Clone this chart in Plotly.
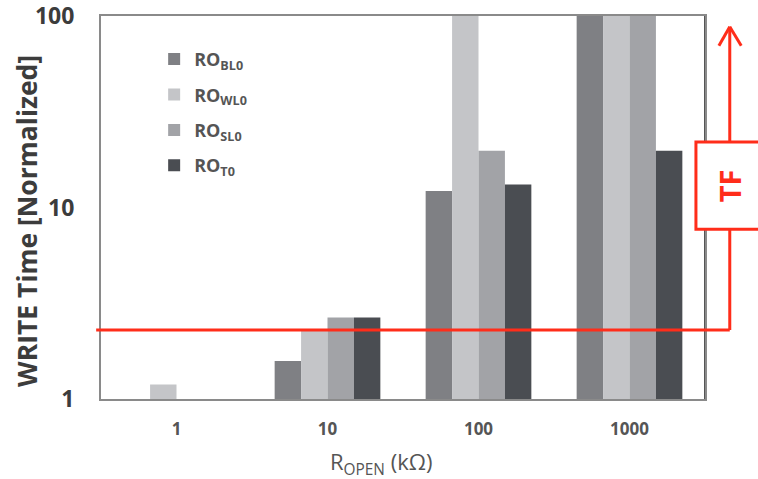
import plotly.graph_objects as go
import math

categories = ["1", "10", "100", "1000"]
series_names = ["RO<sub>BL0</sub>", "RO<sub>WL0</sub>", "RO<sub>SL0</sub>", "RO<sub>T0</sub>"]
ro_bl0 = [None, 1.58, 12.2, 100]
ro_wl0 = [1.19, 2.29, 100, 100]
ro_sl0 = [None, 2.66, 19.8, 100]
ro_t0 = [None, 2.66, 13.2, 19.8]
colors = ["#7f8084", "#c4c5c8", "#a2a3a7", "#4a4d52"]
threshold = 2.29
tf_arrow_top = 88
tf_arrow_base = 70
tf_box = [7.7, 22.0]
y_ticks = [1, 10, 100]

RED = "#ff2d1a"
FONT = "Open Sans"

fig = go.Figure()
for i, (name, vals) in enumerate(zip(series_names, [ro_bl0, ro_wl0, ro_sl0, ro_t0])):
    fig.add_trace(go.Bar(
        x=categories, y=vals, name=name, marker_color=colors[i],
        marker_line_width=0, legendgroup=str(i)))

shapes = [
    dict(type="line", xref="paper", yref="y", x0=-0.008, x1=1.041,
         y0=threshold, y1=threshold, line=dict(color=RED, width=3)),
    dict(type="line", xref="paper", yref="y", x0=1.041, x1=1.041,
         y0=threshold, y1=tf_arrow_top, line=dict(color=RED, width=3)),
    dict(type="line", xref="paper", yref="y", x0=1.023, x1=1.041,
         y0=tf_arrow_base, y1=tf_arrow_top, line=dict(color=RED, width=3)),
    dict(type="line", xref="paper", yref="y", x0=1.041, x1=1.060,
         y0=tf_arrow_top, y1=tf_arrow_base, line=dict(color=RED, width=3)),
    dict(type="rect", xref="paper", yref="y", x0=0.985, x1=1.2,
         y0=tf_box[0], y1=tf_box[1], fillcolor="white",
         line=dict(color=RED, width=3), layer="above"),
    dict(type="line", xref="paper", yref="paper", x0=1, x1=1, y0=0, y1=1,
         line=dict(color="#555", width=2), layer="below"),
]

annotations = [
    dict(text="<b>TF</b>", xref="paper", yref="y", x=1.041,
         y=(math.log10(tf_box[0]) + math.log10(tf_box[1])) / 2, showarrow=False,
         xanchor="center", yanchor="middle",
         textangle=-90, font=dict(size=29, color=RED, family=FONT)),
    dict(text="<b>WRITE Time [Normalized]</b>", xref="paper", yref="paper",
         x=-0.1225, y=0.465, showarrow=False, textangle=-90,
         xanchor="center", yanchor="middle",
         font=dict(size=26.5, color="#3c3c3c", family=FONT)),
    dict(text="R<sub>OPEN</sub> (kΩ)", xref="paper", yref="paper",
         x=0.4636, y=-0.167, showarrow=False,
         xanchor="center", yanchor="middle",
         font=dict(size=22, color="#555", family=FONT)),
]

fig.update_layout(
    width=758, height=479,
    margin=dict(l=101, r=53, t=16, b=80, autoexpand=False),
    plot_bgcolor="white", paper_bgcolor="white",
    barmode="group", bargap=0.3, bargroupgap=0,
    font=dict(family=FONT, color="#444"),
    shapes=shapes,
    annotations=annotations,
    showlegend=True,
    legend=dict(x=0.088, y=0.935, xanchor="left", yanchor="top",
                bgcolor="rgba(0,0,0,0)", traceorder="grouped",
                tracegroupgap=9,
                font=dict(size=18, color="#555", family=FONT, weight="bold")),
)
fig.update_xaxes(
    showline=True, linecolor="#8a8a8a", linewidth=2, mirror=True,
    showgrid=False, ticks="", ticklabelstandoff=14, automargin=False,
    tickfont=dict(size=17, color="#555", family=FONT, weight="bold"),
)
fig.update_yaxes(
    type="log", range=[-0.0005, 2.0005],
    tickvals=y_ticks, ticktext=[str(v) for v in y_ticks],
    showline=True, linecolor="#8a8a8a", linewidth=2, mirror=True,
    showgrid=False, ticks="", zeroline=False, automargin=False,
    ticklabelstandoff=20, ticklabeloverflow="allow",
    tickfont=dict(size=23, color="#3c3c3c", family=FONT, weight="bold"),
)
fig.write_html("out.html")
